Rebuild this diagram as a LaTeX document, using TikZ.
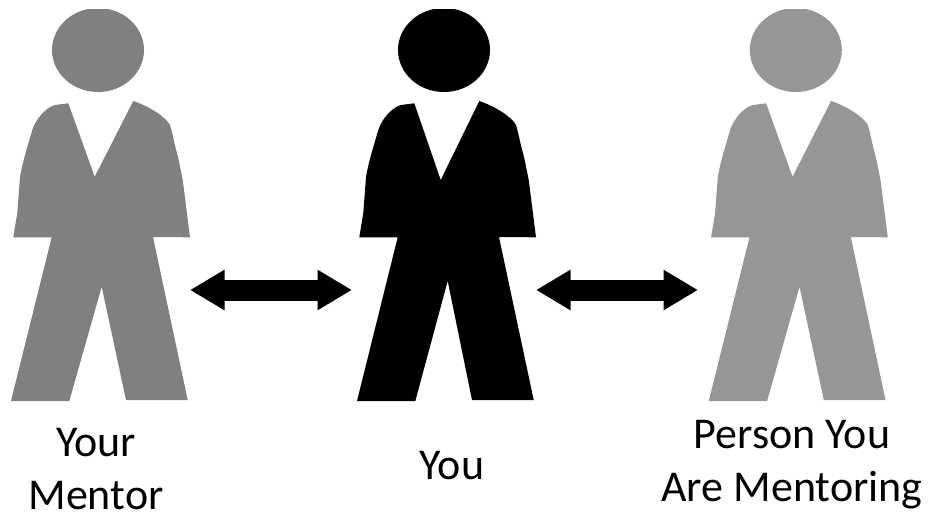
\documentclass[tikz,border=0pt]{standalone}
\usepackage{fontspec}
\setmainfont{Carlito}
\usepackage{xcolor}
\usetikzlibrary{arrows.meta,positioning,calc}
\definecolor{mentorgray}{HTML}{808080}
\definecolor{menteegray}{HTML}{969696}
\tikzset{
  twoway/.style={line width=21pt,{Triangle[length=34.5pt,width=38pt]}-{Triangle[length=34.5pt,width=38pt]},shorten <=0pt,shorten >=0pt},
  caption/.style={font=\fontsize{44}{53}\selectfont,align=center,text=black,inner sep=0pt}
}
\newcommand{\personfig}[4]{
\begin{scope}[shift={(#1,0)}]
\fill[#2] (98,50) ellipse [x radius=46,y radius=42];
\fill[#2] (68.3,103.3) -- (94.7,#3) -- (133.3,101)
  .. controls (148,106) and (165,116) .. (170,125)
  .. controls (173,135) and (174,143) .. (177,153)
  .. controls (180,165) and (181,172) .. (182.7,180)
  -- (190,237.3) -- (153,237) -- (187.7,400) -- (126,400) -- (101.7,#4)
  -- (69.3,401) -- (11,401) -- (51.7,237.3) -- (13.3,237.3) -- (17.3,213)
  -- (20,177) .. controls (23,160) and (28,145) .. (32.3,130)
  .. controls (36,118) and (47,107) .. (55,105) -- cycle;
\end{scope}
}
\begin{document}
\begin{tikzpicture}[x=1pt,y=-1pt]
\useasboundingbox (0,0) rectangle (928,515);
\begin{scope}
\clip (0,9.5) rectangle (928,515);
\personfig{0}{mentorgray}{176.7}{286.7}
\personfig{346}{black}{180}{281}
\personfig{697.8}{menteegray}{176.7}{286.7}
\end{scope}
\coordinate (mentorside) at (190,290);
\coordinate (youleft) at (352,290);
\coordinate (youright) at (536,290);
\coordinate (menteeside) at (698,290);
\draw[twoway] (mentorside) -- (youleft);
\draw[twoway] (youright) -- (menteeside);
\node[caption] (mentorlabel) at (96,469) {Your\\Mentor};
\node[caption] (youlabel) at (452,466) {You};
\node[caption] (menteelabel) at (792,465) {Person You\\Are Mentoring};
\end{tikzpicture}
\end{document}
